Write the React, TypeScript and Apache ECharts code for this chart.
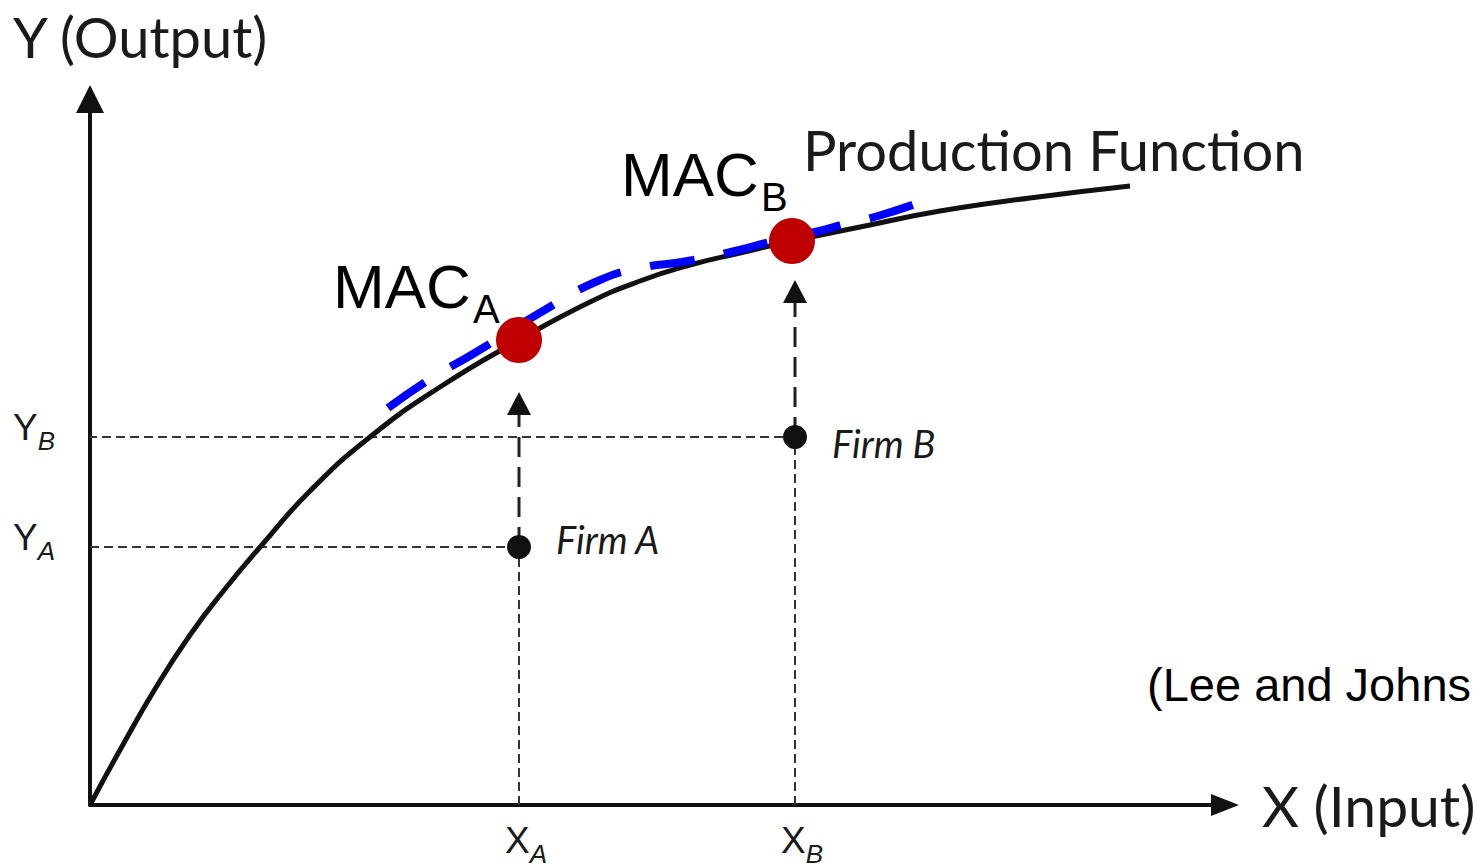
import React, { useEffect, useRef } from "react";
import * as echarts from "echarts";

// Production function (input X, output Y)
const curveX = [0, 30, 65, 100, 135, 171, 220, 280, 350, 429, 500, 550, 600, 650, 702, 775, 850, 940, 1040];
const curveY = [0, 55, 116, 170, 216, 259, 314, 368, 418, 465, 503, 524, 540, 552, 564, 579, 594, 607, 619];
// Blue dashed "MAC" frontier line
const macLineX = [298, 340, 383, 453, 510, 555, 592, 645, 680, 725, 755, 788, 828];
const macLineY = [397, 426, 451, 494, 525, 538, 543, 554, 563, 573, 581, 589, 602];
// Projection points on the frontier
const macNames = ["A", "B"];
const macX = [429, 702];
const macY = [465, 564];
// Observed firms
const firmNames = ["Firm A", "Firm B"];
const firmX = [429, 705];
const firmY = [258, 368];
const arrowTipY = [413, 525];
// Axis tick labels (subscripts)
const tickSubs = ["A", "B"];

const X_MAX = 1135;
const Y_MAX = 706;

export default function App() {
  const ref = useRef<HTMLDivElement>(null);

  useEffect(() => {
    if (!ref.current) return;
    const chart = echarts.init(ref.current, undefined, { renderer: "svg" });

    const thin = { type: [9, 5], width: 2, color: "#333" };
    const guide = (pts: number[][]) => ({
      type: "line",
      data: pts,
      symbol: "none",
      silent: true,
      clip: false,
      lineStyle: thin,
      z: 1,
    });
    const arrowShaft = (i: number) => ({
      type: "line",
      data: [
        [firmX[i], firmY[i]],
        [firmX[i], arrowTipY[i] - 23],
      ],
      symbol: "none",
      silent: true,
      lineStyle: { type: [20, 10], width: 3, color: "#222" },
      z: 2,
    });

    const labelRich = {
      m: {
        fontFamily: "Liberation Sans",
        fontSize: 37,
        color: "#1a1a1a",
        verticalAlign: "top",
        lineHeight: 56,
        padding: [0, 0, 0, 14],
      },
      s: {
        fontFamily: "Liberation Sans",
        fontStyle: "italic",
        fontSize: 26,
        color: "#1a1a1a",
        verticalAlign: "middle",
        lineHeight: 56,
        padding: [7, 0, 0, 0],
      },
    };

    const option: any = {
      animation: false,
      grid: { left: 90, top: 99, right: 252, bottom: 63, outerBoundsMode: "none" },
      xAxis: {
        type: "value",
        min: 0,
        max: X_MAX,
        splitLine: { show: false },
        axisTick: { show: false },
        axisLine: {
          show: true,
          onZero: false,
          symbol: ["none", "triangle"],
          symbolSize: [22, 28],
          lineStyle: { color: "#111", width: 4 },
        },
        axisLabel: {
          show: true,
          customValues: firmX,
          margin: 17,
          formatter: (v: number) => {
            const i = firmX.indexOf(v);
            return i < 0 ? "" : `{m|X}{s|${tickSubs[i]}}`;
          },
          rich: labelRich,
        },
        name: "X (Input)",
        nameLocation: "end",
        nameGap: 37,
        nameTextStyle: {
          fontFamily: "Lato",
          fontSize: 57,
          color: "#1a1a1a",
          padding: [10, 0, 0, 0],
        },
      },
      yAxis: {
        type: "value",
        min: 0,
        max: Y_MAX,
        splitLine: { show: false },
        axisTick: { show: false },
        axisLine: {
          show: true,
          onZero: false,
          symbol: ["none", "triangle"],
          symbolSize: [28, 28],
          lineStyle: { color: "#111", width: 4 },
        },
        axisLabel: {
          show: true,
          customValues: firmY,
          margin: 35,
          formatter: (v: number) => {
            const i = firmY.indexOf(v);
            return i < 0 ? "" : `{m|Y}{s|${tickSubs[i]}}`;
          },
          rich: labelRich,
        },
      },
      series: [
        guide([
          [-16, firmY[1]],
          [firmX[1], firmY[1]],
        ]),
        guide([
          [0, firmY[0]],
          [firmX[0], firmY[0]],
        ]),
        guide([
          [firmX[0], 0],
          [firmX[0], firmY[0]],
        ]),
        guide([
          [firmX[1], 0],
          [firmX[1], firmY[1]],
        ]),
        arrowShaft(0),
        arrowShaft(1),
        {
          type: "scatter",
          data: firmX.map((x, i) => [x, arrowTipY[i] - 11.5]),
          symbol: "triangle",
          symbolSize: [24, 23],
          itemStyle: { color: "#111", opacity: 1 },
          silent: true,
          z: 3,
        },
        {
          name: "Production Function",
          type: "line",
          data: curveX.map((x, i) => [x, curveY[i]]),
          symbol: "none",
          smooth: 0.5,
          lineStyle: { color: "#111", width: 5 },
          silent: true,
          z: 4,
        },
        {
          name: "MAC",
          type: "line",
          data: macLineX.map((x, i) => [x, macLineY[i]]),
          symbol: "none",
          smooth: 0.5,
          lineStyle: { color: "#0000FF", width: 8, type: [45, 30], cap: "butt" },
          silent: true,
          z: 5,
        },
        {
          type: "scatter",
          data: firmX.map((x, i) => ({
            name: firmNames[i],
            value: [x, firmY[i]],
            label: { offset: [0, i === 0 ? -8 : 6] },
          })),
          symbolSize: 24,
          itemStyle: { color: "#111", opacity: 1 },
          label: {
            show: true,
            position: "right",
            distance: 25,
            formatter: "{b}",
            fontFamily: "Lato",
            fontStyle: "italic",
            fontSize: 38,
            color: "#1a1a1a",
          },
          silent: true,
          z: 6,
        },
        {
          type: "scatter",
          data: macX.map((x, i) => ({ name: "MAC" + macNames[i], value: [x, macY[i]] })),
          symbolSize: 46,
          itemStyle: { color: "#C00000", opacity: 1 },
          silent: true,
          z: 7,
        },
      ],
      graphic: [
        {
          type: "text",
          x: 13,
          y: 36,
          style: { text: "Y (Output)", fontFamily: "Lato", fontSize: 56, fill: "#1a1a1a", verticalAlign: "middle" },
        },
        {
          type: "text",
          x: 803,
          y: 149,
          style: { text: "Production Function", fontFamily: "Lato", fontSize: 56, fill: "#1a1a1a", verticalAlign: "middle" },
        },
        {
          type: "text",
          x: 333,
          y: 286,
          style: { text: "MAC", fontFamily: "Liberation Sans", fontSize: 62, fill: "#000", verticalAlign: "middle" },
        },
        {
          type: "text",
          x: 473,
          y: 309,
          style: { text: "A", fontFamily: "Liberation Sans", fontSize: 40, fill: "#000", verticalAlign: "middle" },
        },
        {
          type: "text",
          x: 621,
          y: 174,
          style: { text: "MAC", fontFamily: "Liberation Sans", fontSize: 62, fill: "#000", verticalAlign: "middle" },
        },
        {
          type: "text",
          x: 761,
          y: 197,
          style: { text: "B", fontFamily: "Liberation Sans", fontSize: 40, fill: "#000", verticalAlign: "middle" },
        },
        {
          type: "text",
          x: 1147,
          y: 684,
          style: { text: "(Lee and Johns", fontFamily: "Liberation Sans", fontSize: 47, fill: "#000", verticalAlign: "middle" },
        },
      ],
    };

    chart.setOption(option);
    return () => chart.dispose();
  }, []);

  return (
    <div
      ref={ref}
      style={{ position: "fixed", left: 0, top: 0, width: 1477, height: 868, background: "#fff" }}
    />
  );
}
